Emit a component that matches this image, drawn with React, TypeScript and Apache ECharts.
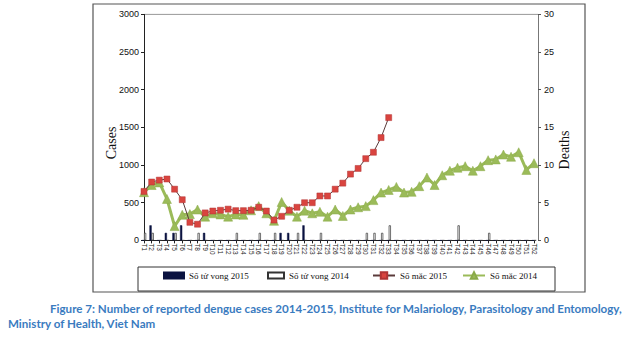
import React, { useEffect, useRef } from "react";
import * as echarts from "echarts";

const weeks = [
  "T1","T2","T3","T4","T5","T6","T7","T8","T9","T10","T11","T12","T13",
  "T14","T15","T16","T17","T18","T19","T20","T21","T22","T23","T24","T25","T26",
  "T27","T28","T29","T30","T31","T32","T33","T34","T35","T36","T37","T38","T39",
  "T40","T41","T42","T43","T44","T45","T46","T47","T48","T49","T50","T51","T52",
];

// Deaths (right axis)
const deaths2015 = [
  0,2,0,1,1,2,0,0,1,0,0,0,0,
  0,0,0,0,0,1,1,0,2,0,0,0,0,
  0,0,0,0,0,0,0,0,0,0,0,0,0,
  0,0,0,0,0,0,0,0,0,0,0,0,0,
];
const deaths2014 = [
  1,1,0,0,1,0,0,1,0,0,0,0,1,
  0,0,1,0,1,0,0,1,0,0,1,0,0,
  0,0,0,1,1,1,2,0,0,0,0,0,0,
  0,0,2,0,0,0,1,0,0,0,0,0,0,
];

// Cases (left axis)
const cases2015 = [
  650,775,800,815,680,540,240,215,365,390,400,415,395,
  395,400,440,390,270,320,400,440,500,500,590,590,680,
  760,880,955,1085,1170,1365,1630,
];
const cases2014 = [
  640,735,770,550,190,340,350,410,315,360,345,315,345,
  340,400,455,360,260,510,395,315,395,360,380,315,410,
  325,410,440,455,535,635,670,710,635,645,720,835,735,
  865,925,965,985,925,985,1065,1075,1140,1110,1170,935,1025,
];

const leftTicks = { min: 0, max: 3000, interval: 500 };
const rightTicks = { min: 0, max: 30, interval: 5 };

const legendNames = ["Số tử vong 2015", "Số tử vong 2014", "Số mắc 2015", "Số mắc 2014"];

const caption1 =
  "Figure 7: Number of reported dengue cases 2014-2015, Institute for Malariology, Parasitology and Entomology,";
const caption2 = "Ministry of Health, Viet Nam";

export default function App() {
  const ref = useRef<HTMLDivElement>(null);
  useEffect(() => {
    if (!ref.current) return;
    const chart = echarts.init(ref.current, null, { renderer: "svg" });
    const axisFont = { fontFamily: "Liberation Sans", fontSize: 9, color: "#111" };
    const legendText = { fontFamily: "Liberation Serif", fontSize: 9, color: "#111" };
    const mkLegend = (name: string, left: number, w: number, h: number, icon?: string) => ({
      data: icon ? [{ name, icon }] : [name],
      left,
      top: 271,
      padding: 0,
      itemWidth: w,
      itemHeight: h,
      itemGap: 0,
      textStyle: legendText,
      selectedMode: false,
    });
    chart.setOption({
      animation: false,
      backgroundColor: "#fff",
      grid: { left: 144, right: 90, top: 14.4, bottom: 98.6, containLabel: false },
      legend: [
        mkLegend(legendNames[0], 163, 20, 6, "rect"),
        mkLegend(legendNames[1], 267, 16, 6, "rect"),
        mkLegend(legendNames[2], 372, 22, 8),
        mkLegend(legendNames[3], 462, 22, 8),
      ],
      xAxis: {
        type: "category",
        data: weeks,
        boundaryGap: false,
        axisLine: { lineStyle: { color: "#222", width: 1 } },
        axisTick: { show: true, interval: 0, length: 3, lineStyle: { color: "#222" } },
        axisLabel: {
          interval: 0,
          rotate: -90,
          margin: 3,
          fontFamily: "Liberation Sans",
          fontSize: 6.5,
          color: "#222",
        },
        splitLine: { show: false },
      },
      yAxis: [
        {
          type: "value",
          ...leftTicks,
          position: "left",
          axisLine: { show: true, lineStyle: { color: "#222", width: 1 } },
          axisTick: { show: true, length: 3, lineStyle: { color: "#222" } },
          axisLabel: { ...axisFont, margin: 5, formatter: (v: number) => String(v) },
          splitLine: { show: false },
        },
        {
          type: "value",
          ...rightTicks,
          position: "right",
          offset: 4,
          axisLine: { show: true, lineStyle: { color: "#777", width: 1 } },
          axisTick: { show: true, length: 3, lineStyle: { color: "#555" } },
          axisLabel: { ...axisFont, margin: 6, formatter: (v: number) => String(v) },
          splitLine: { show: false },
        },
      ],
      series: [
        {
          name: legendNames[0],
          type: "bar",
          yAxisIndex: 1,
          data: deaths2015,
          barWidth: 2.2,
          barGap: "0%",
          itemStyle: { color: "#0b1340", borderColor: "#0b1340", borderWidth: 0.5 },
          z: 2,
        },
        {
          name: legendNames[1],
          type: "bar",
          yAxisIndex: 1,
          data: deaths2014,
          barWidth: 2.2,
          barGap: "0%",
          itemStyle: { color: "#ffffff", borderColor: "#333", borderWidth: 0.7 },
          z: 2,
        },
        {
          name: legendNames[3],
          type: "line",
          yAxisIndex: 0,
          data: cases2014,
          symbol: "triangle",
          symbolSize: 9,
          lineStyle: { color: "#9bbb59", width: 3 },
          itemStyle: { color: "#9bbb59", borderColor: "#8aaa48", borderWidth: 0.5 },
          z: 3,
        },
        {
          name: legendNames[2],
          type: "line",
          yAxisIndex: 0,
          data: cases2015,
          symbol: "rect",
          symbolSize: 6,
          lineStyle: { color: "#5a3a3a", width: 1 },
          itemStyle: { color: "#d9443f", borderColor: "#b03434", borderWidth: 0.5 },
          z: 4,
        },
      ],
      graphic: [
        {
          type: "rect",
          shape: { x: 93, y: 4, width: 492, height: 288 },
          style: { fill: "none", stroke: "#555", lineWidth: 1.2 },
          z: -1,
        },
        {
          type: "line",
          shape: { x1: 144, y1: 14.4, x2: 538, y2: 14.4 },
          style: { stroke: "#999", lineWidth: 1 },
        },
        {
          type: "rect",
          shape: { x: 138, y: 267, width: 417, height: 24 },
          style: { fill: "none", stroke: "#333", lineWidth: 1 },
        },
        {
          type: "text",
          x: 111,
          y: 143,
          rotation: Math.PI / 2,
          style: {
            text: "Cases",
            font: '14px "Liberation Serif"',
            fill: "#111",
            textAlign: "center",
            textVerticalAlign: "middle",
          },
        },
        {
          type: "text",
          x: 564,
          y: 150,
          rotation: Math.PI / 2,
          style: {
            text: "Deaths",
            font: '14px "Liberation Serif"',
            fill: "#111",
            textAlign: "center",
            textVerticalAlign: "middle",
          },
        },
        {
          type: "text",
          x: 50,
          y: 308,
          style: {
            text: caption1,
            font: 'bold 11.6px Lato',
            fill: "#3a7bbf",
            textAlign: "left",
            textVerticalAlign: "middle",
          },
        },
        {
          type: "text",
          x: 8,
          y: 323,
          style: {
            text: caption2,
            font: 'bold 11.6px Lato',
            fill: "#3a7bbf",
            textAlign: "left",
            textVerticalAlign: "middle",
          },
        },
      ],
    });
    return () => chart.dispose();
  }, []);
  return (
    <div
      ref={ref}
      style={{ position: "absolute", left: 0, top: 0, width: 624, height: 339 }}
    />
  );
}
